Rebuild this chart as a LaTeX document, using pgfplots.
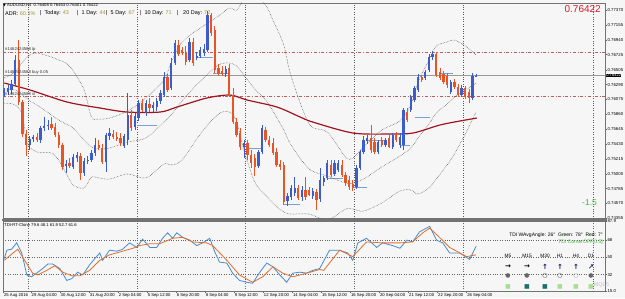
\documentclass[border=0pt]{standalone}
\usepackage{pgfplots}
\pgfplotsset{compat=1.18}
\usepackage{pgfplotstable}
\usepackage{fontspec}
\setmainfont{Liberation Sans}
\newfontfamily\dejavu{DejaVu Sans}
\newcommand\fs[1]{\fontsize{#1}{#1}\selectfont}
\definecolor{bull}{RGB}{58,92,205}
\definecolor{bear}{RGB}{234,84,36}
\definecolor{maline}{RGB}{160,20,30}
\definecolor{bgc}{RGB}{246,246,246}
\definecolor{ordr}{RGB}{185,95,95}
\definecolor{olivec}{RGB}{155,155,60}
\definecolor{tdiblue}{RGB}{70,140,210}
\definecolor{tdiorange}{RGB}{230,110,40}
\definecolor{seg}{RGB}{120,160,215}
\definecolor{pricered}{RGB}{210,30,40}
\definecolor{greentxt}{RGB}{60,180,60}
\definecolor{navy2}{RGB}{20,20,100}
\definecolor{lgreen}{RGB}{170,220,150}
\definecolor{dteal}{RGB}{30,110,110}

\pgfplotstableread{
i o h l c
0 0.76168 0.76241 0.76110 0.76212
1 0.76183 0.76284 0.76139 0.76241
2 0.76212 0.76357 0.76154 0.76299
3 0.76299 0.76719 0.76270 0.76646
4 0.76646 0.76936 0.75995 0.76038
5 0.76038 0.76067 0.75531 0.75575
6 0.75575 0.75633 0.75256 0.75415
7 0.75415 0.75546 0.75343 0.75502
8 0.75502 0.75560 0.75459 0.75531
9 0.75531 0.75589 0.75459 0.75488
10 0.75488 0.75691 0.75444 0.75662
11 0.75662 0.75821 0.75618 0.75691
12 0.75691 0.75777 0.75633 0.75705
13 0.75720 0.75821 0.75633 0.75662
14 0.75676 0.75734 0.75531 0.75560
15 0.75560 0.75604 0.75372 0.75415
16 0.75415 0.75444 0.75053 0.75097
17 0.75111 0.75198 0.75010 0.75140
18 0.75155 0.75227 0.75082 0.75111
19 0.75097 0.75285 0.75068 0.75242
20 0.75227 0.75314 0.75169 0.75271
21 0.75256 0.75300 0.74909 0.75010
22 0.75010 0.75227 0.74967 0.75184
23 0.75184 0.75256 0.75140 0.75198
24 0.75198 0.75343 0.75169 0.75300
25 0.75300 0.75517 0.75256 0.75415
26 0.75415 0.75488 0.75343 0.75372
27 0.75372 0.75430 0.75140 0.75169
28 0.75169 0.75589 0.75024 0.75560
29 0.75546 0.75662 0.75488 0.75589
30 0.75575 0.75633 0.75502 0.75531
31 0.75531 0.75604 0.75473 0.75502
32 0.75517 0.75589 0.75401 0.75444
33 0.75401 0.75575 0.75372 0.75546
34 0.75488 0.76168 0.75415 0.75850
35 0.75850 0.75922 0.75618 0.75662
36 0.75676 0.75879 0.75633 0.75835
37 0.75806 0.76067 0.75763 0.76024
38 0.76024 0.76082 0.75893 0.75922
39 0.75879 0.76067 0.75835 0.76024
40 0.76009 0.76096 0.75893 0.75951
41 0.75951 0.76038 0.75893 0.75995
42 0.75966 0.76096 0.75908 0.76053
43 0.76053 0.76212 0.76009 0.76168
44 0.76139 0.76472 0.76110 0.76400
45 0.76400 0.76444 0.76183 0.76212
46 0.76241 0.76675 0.76212 0.76603
47 0.76603 0.76936 0.76574 0.76892
48 0.76863 0.76936 0.76704 0.76733
49 0.76791 0.76834 0.76719 0.76748
50 0.76762 0.76849 0.76574 0.76617
51 0.76646 0.76965 0.76617 0.76907
52 0.76907 0.76965 0.76559 0.76603
53 0.76675 0.76762 0.76646 0.76704
54 0.76704 0.76834 0.76675 0.76791
55 0.76748 0.76878 0.76704 0.76805
56 0.76791 0.77356 0.76762 0.77298
57 0.77298 0.77327 0.76994 0.77037
58 0.77081 0.77139 0.76458 0.76501
59 0.76530 0.76588 0.76415 0.76444
60 0.76487 0.76559 0.76415 0.76444
61 0.76444 0.76559 0.76400 0.76516
62 0.76530 0.76588 0.76110 0.76139
63 0.76139 0.76241 0.75720 0.75748
64 0.75748 0.75806 0.75531 0.75560
65 0.75589 0.75662 0.75343 0.75386
66 0.75386 0.75488 0.75227 0.75444
67 0.75444 0.75488 0.75198 0.75271
68 0.75271 0.75343 0.75082 0.75155
69 0.75227 0.75285 0.74967 0.75097
70 0.75111 0.75343 0.75082 0.75314
71 0.75314 0.75705 0.75285 0.75662
72 0.75633 0.75676 0.75459 0.75488
73 0.75488 0.75546 0.75386 0.75415
74 0.75444 0.75517 0.75271 0.75300
75 0.75314 0.75372 0.75097 0.75126
76 0.75140 0.75198 0.75053 0.75097
77 0.75126 0.75169 0.74547 0.74590
78 0.74605 0.74720 0.74532 0.74677
79 0.74662 0.74836 0.74619 0.74793
80 0.74720 0.74952 0.74677 0.74793
81 0.74793 0.74836 0.74619 0.74648
82 0.74662 0.74822 0.74605 0.74764
83 0.74764 0.74952 0.74619 0.74662
84 0.74764 0.74807 0.74677 0.74691
85 0.74677 0.74793 0.74634 0.74749
86 0.74735 0.74778 0.74474 0.74619
87 0.74634 0.75082 0.74590 0.74909
88 0.74880 0.74967 0.74822 0.74938
89 0.74938 0.75198 0.74909 0.75155
90 0.75126 0.75198 0.74952 0.74981
91 0.74996 0.75198 0.74967 0.75155
92 0.75053 0.75198 0.75024 0.75155
93 0.75126 0.75198 0.74952 0.74981
94 0.74981 0.75024 0.74822 0.74865
95 0.74909 0.74967 0.74764 0.74807
96 0.74851 0.74909 0.74749 0.74793
97 0.74807 0.75126 0.74778 0.75082
98 0.75082 0.75343 0.75053 0.75314
99 0.75314 0.75546 0.75285 0.75488
100 0.75473 0.75560 0.75430 0.75517
101 0.75517 0.75705 0.75300 0.75343
102 0.75459 0.75517 0.75285 0.75314
103 0.75314 0.75488 0.75285 0.75459
104 0.75488 0.75531 0.75386 0.75415
105 0.75415 0.75517 0.75386 0.75488
106 0.75517 0.75575 0.75372 0.75386
107 0.75386 0.75589 0.75358 0.75560
108 0.75560 0.75604 0.75459 0.75488
109 0.75415 0.75589 0.75372 0.75531
110 0.75415 0.75951 0.75343 0.75922
111 0.75893 0.75951 0.75748 0.75777
112 0.75922 0.76139 0.75893 0.76110
113 0.76067 0.76270 0.76038 0.76241
114 0.76212 0.76444 0.76183 0.76400
115 0.76400 0.76429 0.76328 0.76357
116 0.76386 0.76501 0.76357 0.76472
117 0.76501 0.76733 0.76472 0.76690
118 0.76690 0.76777 0.76646 0.76733
119 0.76733 0.76762 0.76400 0.76429
120 0.76472 0.76530 0.76357 0.76386
121 0.76444 0.76487 0.76299 0.76328
122 0.76415 0.76458 0.76241 0.76284
123 0.76183 0.76357 0.76154 0.76328
124 0.76328 0.76371 0.76226 0.76255
125 0.76255 0.76299 0.76110 0.76139
126 0.76139 0.76284 0.76110 0.76241
127 0.76241 0.76270 0.76082 0.76110
128 0.76183 0.76226 0.76024 0.76096
129 0.76096 0.76458 0.76067 0.76415
130 0.76415 0.76444 0.76400 0.76422
}\candles

\pgfplotstableread{
i u m l
0 0.76386 0.76212 0.76024
3 0.76472 0.76212 0.75995
5 0.76617 0.76139 0.75850
6 0.76675 0.76096 0.75488
7 0.76719 0.76053 0.75386
9 0.76748 0.75995 0.75314
13 0.76690 0.75850 0.75300
15 0.76646 0.75777 0.75198
17 0.76603 0.75720 0.75010
19 0.76487 0.75662 0.74836
22 0.76212 0.75488 0.74793
24 0.75821 0.75386 0.74952
26 0.75792 0.75358 0.74938
29 0.75806 0.75372 0.74923
34 0.75908 0.75459 0.74996
39 0.76096 0.75517 0.74938
44 0.76357 0.75748 0.75140
46 0.76617 0.75850 0.75126
49 0.76907 0.76053 0.75198
54 0.77110 0.76342 0.75575
59 0.77283 0.76574 0.75864
62 0.77399 0.76603 0.75893
64 0.77370 0.76559 0.75763
66 0.77515 0.76429 0.75343
69 0.77573 0.76226 0.74880
72 0.77443 0.76067 0.74691
74 0.77225 0.75908 0.74576
77 0.76863 0.75633 0.74445
79 0.76415 0.75415 0.74416
84 0.75720 0.75068 0.74416
89 0.75604 0.74967 0.74329
94 0.75242 0.74865 0.74489
96 0.75227 0.74865 0.74489
99 0.75386 0.74923 0.74460
104 0.75633 0.75097 0.74576
109 0.75763 0.75256 0.74749
112 0.75995 0.75372 0.74764
114 0.76328 0.75517 0.74706
117 0.76646 0.75720 0.74793
119 0.76849 0.75879 0.74923
122 0.76907 0.76009 0.75126
124 0.76936 0.76110 0.75285
127 0.76849 0.76212 0.75575
130 0.76719 0.76313 0.75893
}\bands

\begin{document}
\begin{tikzpicture}
\fill[bgc] (0pt,0pt) rectangle (625pt,298pt);
\begin{axis}[
  at={(3pt,79.4pt)}, anchor=south west,
  width=602pt, height=215.6pt, scale only axis,
  xmin=-0.36, xmax=165.5, ymin=0.7435, ymax=0.77472,
  axis background/.style={fill=bgc},
  axis line style={draw=black!55, line width=0.6pt},
  xtick=\empty,
  extra x ticks={6.5,36.5,66.5,96.5,126.5,162.2},
  extra x tick labels={},
  extra x tick style={grid=major, major tick length=0pt},
  grid style={dotted, black!65, line width=0.55pt},
  scaled y ticks=false,
  ytick={0.7737,0.77155,0.7694,0.76725,0.76505,0.7629,0.76075,0.7586,0.75645,0.7543,0.75215,0.75,0.74785,0.7457,0.74355},
  yticklabels={0.77370,0.77155,0.76940,0.76725,0.76505,0.76290,0.76075,0.75860,0.75645,0.75430,0.75215,0.75000,0.74785,0.74570,0.74355},
  ytick pos=right, yticklabel pos=right,
  tick align=outside, major tick length=2pt,
  tick style={black!60, line width=0.4pt},
  yticklabel style={font=\fs{4.3}, inner sep=0.4pt, anchor=west},
]
% order lines
\addplot[ordr, dash dot, line width=0.5pt] coordinates {(-0.36,0.76762) (165.5,0.76762)};
\addplot[ordr, dash dot, line width=0.5pt] coordinates {(-0.36,0.76125) (165.5,0.76125)};
\addplot[black!40, line width=0.5pt] coordinates {(-0.36,0.76425) (165.5,0.76425)};
% short segments
\addplot[seg, line width=0.6pt] coordinates {(36.6,0.75705) (42.1,0.75705)};
\addplot[seg, line width=0.6pt] coordinates {(53.1,0.76690) (57.5,0.76690)};
\addplot[seg, line width=0.6pt] coordinates {(57.5,0.76458) (62.2,0.76458)};
\addplot[seg, line width=0.6pt] coordinates {(66.8,0.75372) (71.3,0.75372)};
\addplot[seg, line width=0.6pt] coordinates {(76.8,0.74561) (81.5,0.74561)};
\addplot[seg, line width=0.6pt] coordinates {(88.9,0.74938) (93.3,0.74938)};
\addplot[seg, line width=0.6pt] coordinates {(96.1,0.74807) (99.9,0.74807)};
\addplot[seg, line width=0.6pt] coordinates {(99.9,0.75488) (105.4,0.75488)};
\addplot[seg, line width=0.6pt] coordinates {(109,0.75415) (111.8,0.75415)};
\addplot[seg, line width=0.6pt] coordinates {(113.1,0.75821) (117.3,0.75821)};
\addplot[seg, line width=0.6pt] coordinates {(120,0.76458) (123.6,0.76458)};
% bands
\addplot[densely dotted, black!75, line width=0.5pt, smooth] table[x=i,y=u] {\bands};
\addplot[densely dotted, black!75, line width=0.5pt, smooth] table[x=i,y=m] {\bands};
\addplot[densely dotted, black!75, line width=0.5pt, smooth] table[x=i,y=l] {\bands};
% MA
\addplot[maline, line width=1.2pt, smooth] coordinates {
(0,0.76313) (7.1,0.76212) (17.3,0.76038) (26.4,0.75951) (33.8,0.75893) (42.9,0.75893)
(47.6,0.75966) (55.8,0.76096) (62.2,0.76139) (66.9,0.76067) (75.1,0.75966) (81.5,0.75821)
(85,0.75748) (96.1,0.75589) (106.3,0.75575) (112.6,0.75589) (120,0.75705) (125.5,0.75763) (130.2,0.75806)};
% candles: wicks
\addplot[draw=none, restrict expr to domain={\thisrow{c}-\thisrow{o}}{0:1},
  error bars/.cd, y dir=minus, y explicit, error mark=none,
  error bar style={line width=0.7pt, bull}]
  table[x=i, y=h, y error expr=\thisrow{h}-\thisrow{l}] {\candles};
\addplot[draw=none, restrict expr to domain={\thisrow{c}-\thisrow{o}}{-1:-0.000001},
  error bars/.cd, y dir=minus, y explicit, error mark=none,
  error bar style={line width=0.7pt, bear}]
  table[x=i, y=h, y error expr=\thisrow{h}-\thisrow{l}] {\candles};
% bodies
\addplot[draw=none, restrict expr to domain={\thisrow{c}-\thisrow{o}}{0:1},
  error bars/.cd, y dir=plus, y explicit, error mark=none,
  error bar style={line width=2.3pt, bull}]
  table[x=i, y=o, y error expr=\thisrow{c}-\thisrow{o}] {\candles};
\addplot[draw=none, restrict expr to domain={\thisrow{c}-\thisrow{o}}{-1:-0.000001},
  error bars/.cd, y dir=plus, y explicit, error mark=none,
  error bar style={line width=2.3pt, bear}]
  table[x=i, y=c, y error expr=\thisrow{o}-\thisrow{c}] {\candles};
\end{axis}

\draw[black!55, line width=1.6pt] (2pt,78.2pt) -- (607pt,78.2pt);

\begin{axis}[
  at={(3pt,7pt)}, anchor=south west,
  width=602pt, height=70pt, scale only axis,
  xmin=-0.36, xmax=165.5, ymin=15.0, ymax=87.9,
  axis background/.style={fill=bgc},
  axis line style={draw=black!55, line width=0.6pt},
  ytick={32,50,68}, yticklabels={32,50,68},
  extra y ticks={15.0,87.9}, extra y tick labels={15.0,87.9},
  extra y tick style={grid=none},
  ymajorgrids,
  grid style={dotted, black!60, line width=0.55pt},
  ytick pos=right, yticklabel pos=right,
  xtick={-0.3,7.3,15.3,23.3,31.3,39.3,47.3,55.3,63.3,71.3,79.3,87.3,95.3,103.3,111.3,119.3,127.3},
  xticklabels={25 Aug 2016,29 Aug 04:00,30 Aug 12:00,31 Aug 20:00,2 Sep 04:00,5 Sep 12:00,6 Sep 20:00,8 Sep 04:00,9 Sep 12:00,12 Sep 20:00,14 Sep 04:00,15 Sep 12:00,16 Sep 20:00,20 Sep 04:00,21 Sep 12:00,22 Sep 20:00,26 Sep 04:00},
  xtick pos=bottom,
  xticklabel style={anchor=north west, font=\fs{4.2}, inner sep=0.4pt, xshift=0.3pt},
  extra x ticks={6.5,36.5,66.5,96.5,126.5,162.2},
  extra x tick labels={},
  extra x tick style={grid=major, major tick length=0pt},
  tick align=outside, major tick length=2pt,
  tick style={black!60, line width=0.4pt},
  yticklabel style={font=\fs{4.3}, inner sep=0.4pt, anchor=west},
]
\addplot[tdiblue, line width=0.8pt] coordinates {
(0,48.9) (0.7,57.5) (2.0,58.5) (3.4,65.1) (4.8,54.6) (6.2,31.7) (7.5,29.8) (8.9,33.6) (10.6,38.4) (12,43.2) (13.3,43.2) (15.3,38.4) (17.2,26.0) (18.6,27.9) (20.2,34.6) (21.6,31.7) (23.5,42.2) (25.4,50.8) (26.3,54.6) (27.1,47.0) (29.0,57.5) (31,56.5) (32.6,58.5) (34.5,65.1) (36.5,60.4) (38.1,69.0) (40.1,60.4) (42,60.4) (43.6,69.9) (45,75.6) (46.4,69.9) (47.5,75.6) (49.1,70.9) (51.1,68) (53,62.3) (54.7,65.1) (56.6,69.9) (58,55.6) (59.3,45.1) (61.3,44.1) (62.9,33.6) (64.8,26.0) (66.8,24.1) (68.4,23.1) (70.4,34.6) (72.3,44.1) (74,40.3) (75.9,31.7) (77.8,24.1) (79.5,33.6) (81.4,34.6) (83.3,33.6) (85,36.5) (86.9,38.4) (89.6,57.5) (92.4,57.5) (94.6,54.6) (96,47.0) (97.4,65.1) (99.8,69.9) (102.6,60.4) (104.2,65.1) (107,62.3) (109,59.5) (110.9,68) (112.5,66.1) (114.4,76.6) (117.2,82.3) (119.1,68) (120.8,65.1) (122.7,54.6) (125.5,54.6) (128.2,47.9) (130,61.6)};
\addplot[tdiorange, line width=0.8pt] coordinates {
(0,47.0) (1.5,51.8) (3.7,58.5) (5.6,47.0) (7.8,33.6) (9.2,31.7) (11.7,36.5) (13.9,41.3) (16.1,34.6) (18.6,30.8) (20.8,30.8) (23.5,36.5) (26.3,47.0) (29,52.7) (31.8,55.6) (35.4,59.5) (37.3,62.3) (40,64.2) (42.8,64.2) (46.4,69.9) (49.1,70.9) (51.9,66.1) (55.8,65.1) (57.4,62.3) (61.3,47.0) (64.8,31.7) (68.4,24.1) (71.2,29.8) (74,40.3) (76.7,33.6) (79.5,29.8) (83.3,33.6) (86.9,37.4) (88,36.5) (92.4,57.5) (96,50.8) (99.8,66.1) (104.2,65.1) (109,65.1) (112.5,66.1) (115.3,75.6) (117.2,80.4) (119.9,70.9) (122.7,60.4) (125.5,54.6) (127.4,50.8) (130,52.7)};
\end{axis}

% texts main pane
\node[anchor=west, inner sep=0pt, font=\fs{4.2}] at (3pt,293pt) {{\dejavu\fs{3.6}▼} AUDUSD,H4\ \ 0.76408 0.76453 0.76401 0.76422};
\begin{scope}[every node/.style={anchor=west, inner sep=0pt, font=\fs{5.5}}]
\node at (5pt,284.5pt) {ADR: {\color{olivec}60.1\%}};
\node at (40pt,284.5pt) {|\ \ Today: {\color{olivec}43}};
\node at (77pt,284.5pt) {|\ \ 1 Day: {\color{olivec}44}};
\node at (106pt,284.5pt) {|\ \ 5 Day: {\color{olivec}67}};
\node at (140pt,284.5pt) {|\ \ 10 Day: {\color{olivec}71}};
\node at (177pt,284.5pt) {|\ \ \ 20 Day: {\color{olivec}72}};
\end{scope}
\node[anchor=east, inner sep=0pt, font=\fs{10}, text=pricered] at (601pt,288.5pt) {0.76422};
\node[anchor=west, inner sep=0pt, font=\fs{8.5}, text=greentxt] at (582pt,95pt) {-1.5};
\begin{scope}[every node/.style={anchor=west, inner sep=0pt, font=\fs{4.2}, text=black!80}]
\node at (5pt,248.5pt) {\#1462424588 tp};
\node at (5pt,225.5pt) {\#1462424588 buy 0.05};
\node at (5pt,204.5pt) {\#1462424588 sl};
\end{scope}
\node[fill=black, text=white, anchor=west, inner sep=0.3pt, font=\fs{4.1}] at (605.8pt,222.5pt) {0.76422};
% texts lower pane
\node[anchor=west, inner sep=0pt, font=\fs{4.2}] at (4pt,73pt) {TDI-RT-Clone 79.6 48.1 61.9 52.7 61.6};
\node[anchor=east, inner sep=0pt, font=\fs{5}] at (603pt,63pt) {TDI WAvgAngle: 26°\ \ Green: 78°\ \ Red: 7°};
\node[anchor=east, inner sep=0pt, font=\fs{5}, text=greentxt] at (603pt,55.5pt) {TDI CornerOFF[0.5]};
\begin{scope}[every node/.style={inner sep=0pt, font=\fs{4.8}}]
\node at (508pt,42pt) {M5};
\node at (527pt,42pt) {M15};
\node at (545pt,42pt) {M30};
\node at (560pt,42pt) {H1};
\node at (576pt,42pt) {H4};
\node at (591pt,42pt) {D1};
\end{scope}
\begin{scope}[every node/.style={inner sep=0pt, font=\dejavu\bfseries\fs{7}}]
\node[text=black] at (508pt,31pt) {→};
\node[text=black] at (527pt,31pt) {→};
\node[text=navy2] at (545pt,31pt) {↑};
\node[text=navy2] at (560pt,31pt) {↑};
\node[text=navy2] at (576pt,31pt) {↑};
\node[text=navy2] at (591pt,31pt) {↗};
\end{scope}
\begin{scope}[every node/.style={inner sep=0pt, font=\dejavu\fs{6}}]
\node[text=black!60] at (508pt,22pt) {●};
\node[text=black!60] at (527pt,22pt) {●};
\node[text=black!80] at (545pt,22pt) {\bfseries ○};
\node[text=black!80] at (560pt,22pt) {\bfseries ○};
\node[text=black!35] at (576pt,22pt) {○};
\node[text=black!60] at (591pt,22pt) {●};
\end{scope}
\begin{scope}[every node/.style={inner sep=0pt, font=\dejavu\fs{6}}]
\node[text=lgreen] at (508pt,11pt) {■};
\node[text=dteal] at (527pt,11pt) {■};
\node[text=dteal] at (545pt,11pt) {■};
\node[text=lgreen] at (560pt,11pt) {■};
\node[text=lgreen] at (576pt,11pt) {■};
\node[text=lgreen] at (591pt,11pt) {■};
\end{scope}
\node[inner sep=0pt, font=\bfseries\fs{5.5}, text=black!18] at (601.5pt,13pt) {MQL5};
\end{tikzpicture}
\end{document}
